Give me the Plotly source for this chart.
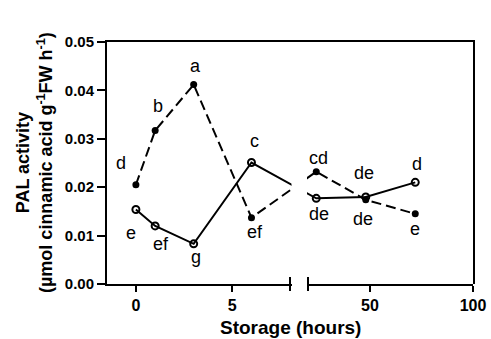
import plotly.graph_objects as go

# ---------------- data ----------------
time_h = [0, 1, 3, 6, 24, 48, 72]
pal_dashed = [0.0205, 0.0317, 0.0412, 0.0137, 0.0232, 0.0174, 0.0145]
pal_solid = [0.0154, 0.0120, 0.0083, 0.0251, 0.0177, 0.0180, 0.0210]
letters_dashed = ["d", "b", "a", "ef", "cd", "de", "e"]
letters_solid = ["e", "ef", "g", "c", "de", "de", "d"]

x_ticks_left = [0, 5]
x_ticks_right = [50, 100]
y_ticks = [0.00, 0.01, 0.02, 0.03, 0.04, 0.05]
y_tick_labels = ["0.00", "0.01", "0.02", "0.03", "0.04", "0.05"]

# ---------------- layout / styles ----------------
W, H = 491, 339
ML, MR, MT, MB = 107, 18, 42, 55
PLOT_W = W - ML - MR
LEFT_RANGE = [-1.5, 8]
RIGHT_RANGE = [20, 100]
GAP_PX = 18
LEFT_PX = 183
RIGHT_PX = PLOT_W - GAP_PX - LEFT_PX

left_scale = LEFT_PX / (LEFT_RANGE[1] - LEFT_RANGE[0])
right_scale = RIGHT_PX / (RIGHT_RANGE[1] - RIGHT_RANGE[0])


def broken_x(x):
    """Map a time value onto the broken (two-segment) x scale."""
    if x <= LEFT_RANGE[1]:
        return (x - LEFT_RANGE[0]) * left_scale
    return LEFT_PX + GAP_PX + (x - RIGHT_RANGE[0]) * right_scale


offs_dashed = [(-15, 22), (3, 25), (2, 19), (4, -14), (2, 14), (-3, -19), (0, -15)]
offs_solid = [(-5, -24), (6, -18), (2, -13), (3, 22), (3, -16), (-2, 24), (2, 18)]

FONT = "Liberation Sans, Arial, Helvetica, sans-serif"
BLACK = "#000000"

u = [broken_x(t) for t in time_h]

fig = go.Figure()

fig.add_trace(go.Scatter(
    x=u, y=pal_solid, mode="lines+markers", xaxis="x", yaxis="y",
    line=dict(color=BLACK, width=2),
    marker=dict(symbol="circle-open", size=7, color=BLACK, line=dict(width=2)),
    hoverinfo="skip", showlegend=False))

fig.add_trace(go.Scatter(
    x=u, y=pal_dashed, mode="lines+markers", xaxis="x", yaxis="y",
    line=dict(color=BLACK, width=2, dash="10px,5px"),
    marker=dict(symbol="circle", size=7, color=BLACK),
    hoverinfo="skip", showlegend=False))

# break markers on the bottom axis
fig.add_trace(go.Scatter(
    x=[LEFT_PX, LEFT_PX + GAP_PX], y=[0, 0], mode="markers", xaxis="x", yaxis="y",
    marker=dict(symbol="line-ns", size=10, color=BLACK, line=dict(width=2, color=BLACK)),
    cliponaxis=False, hoverinfo="skip", showlegend=False))

# empty traces to register the two display axes
fig.add_trace(go.Scatter(x=[], y=[], xaxis="x2", yaxis="y", showlegend=False))
fig.add_trace(go.Scatter(x=[], y=[], xaxis="x3", yaxis="y", showlegend=False))

annotations = []
for t, v, lab, (dx, dy) in zip(u, pal_dashed, letters_dashed, offs_dashed):
    annotations.append(dict(x=t, y=v, xref="x", yref="y", text=lab, showarrow=False,
                            xshift=dx, yshift=dy, xanchor="center", yanchor="middle",
                            font=dict(family=FONT, size=18, color=BLACK)))
for t, v, lab, (dx, dy) in zip(u, pal_solid, letters_solid, offs_solid):
    annotations.append(dict(x=t, y=v, xref="x", yref="y", text=lab, showarrow=False,
                            xshift=dx, yshift=dy, xanchor="center", yanchor="middle",
                            font=dict(family=FONT, size=18, color=BLACK)))

annotations.append(dict(x=0.5, y=0, xref="paper", yref="paper", text="Storage (hours)",
                        showarrow=False, yshift=-43, xanchor="center", yanchor="middle",
                        font=dict(family=FONT, size=19, color=BLACK, weight="bold")))

annotations.append(dict(x=0, y=0.5, xref="paper", yref="paper",
                        text="PAL activity<br>(µmol cinnamic acid g<sup>-1</sup>FW h<sup>-1</sup>)",
                        showarrow=False, textangle=-90, xshift=-73, xanchor="center",
                        yanchor="middle",
                        font=dict(family=FONT, size=18, color=BLACK, weight="bold")))

tickfont = dict(family=FONT, size=15, color=BLACK, weight="bold")
common_x = dict(anchor="y", showline=True, linewidth=2, linecolor=BLACK,
                ticks="outside", ticklen=6, tickwidth=2, tickcolor=BLACK,
                showgrid=False, zeroline=False, tickfont=dict(tickfont, size=16),
                fixedrange=True, automargin=False)

fig.update_layout(
    width=W, height=H,
    margin=dict(l=ML, r=MR, t=MT, b=MB, autoexpand=False),
    paper_bgcolor="white", plot_bgcolor="rgba(0,0,0,0)",
    showlegend=False,
    xaxis=dict(domain=[0, 1], range=[0, PLOT_W], side="top", anchor="y",
               showline=True, linewidth=2, linecolor=BLACK, ticks="",
               showticklabels=False, showgrid=False, zeroline=False, fixedrange=True,
               automargin=False),
    xaxis2=dict(domain=[0, LEFT_PX / PLOT_W], range=LEFT_RANGE,
                tickvals=x_ticks_left, ticktext=[str(v) for v in x_ticks_left], **common_x),
    xaxis3=dict(domain=[(LEFT_PX + GAP_PX) / PLOT_W, 1], range=RIGHT_RANGE,
                tickvals=x_ticks_right, ticktext=[str(v) for v in x_ticks_right], **common_x),
    yaxis=dict(domain=[0, 1], range=[0, 0.05], anchor="x",
               showline=True, mirror=True, linewidth=2, linecolor=BLACK,
               ticks="outside", ticklen=8, tickwidth=2, tickcolor=BLACK,
               tickvals=y_ticks, ticktext=y_tick_labels, tickfont=tickfont,
               showgrid=False, zeroline=False, fixedrange=True, automargin=False),
    annotations=annotations,
    shapes=[dict(type="rect", xref="x", yref="y domain",
                 x0=LEFT_PX + 1.5, x1=LEFT_PX + GAP_PX - 1.0, y0=0.08, y1=0.95,
                 fillcolor="white", line=dict(width=0), layer="above")],
)

fig.write_html("out.html",
               config={"displayModeBar": False},
               post_script="document.body.style.margin='0';document.body.style.overflow='hidden';")
